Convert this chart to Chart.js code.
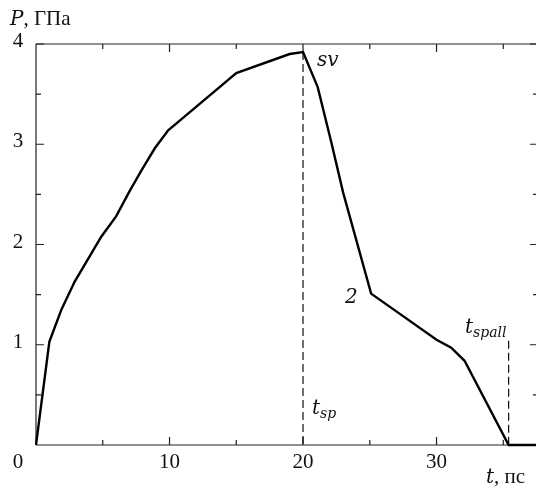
<!DOCTYPE html>
<html>
<head>
<meta charset="utf-8">
<script src="https://cdn.jsdelivr.net/npm/chart.js@4.4.0/dist/chart.umd.min.js"></script>
<style>
  body { margin: 0; background: #fff; }
  #wrap { width: 536px; height: 488px; position: relative; }
</style>
</head>
<body>
<div id="wrap"><canvas id="pressureChart"></canvas></div>
<script>
// time, ps  /  pressure, GPa (curve 2)
const tValues = [0, 1.0, 1.9, 2.9, 4.9, 6.0, 7.0, 7.9, 8.9, 9.9, 10.9, 15.0, 19.0, 20.0, 21.1, 22.1, 23.0, 25.1, 30.0, 31.1, 32.1, 35.4, 37.45];
const pValues = [0, 1.03, 1.35, 1.63, 2.08, 2.28, 2.53, 2.74, 2.96, 3.14, 3.25, 3.71, 3.90, 3.92, 3.57, 3.03, 2.52, 1.51, 1.05, 0.97, 0.84, 0, 0];

// dashed markers
const tSp = 20.0;
const pSp = 3.92;
const tSpall = 35.4;
const pSpall = 1.04;

// ticks
const xMajorTicks = [10, 20, 30];
const xMinorTicks = [5, 15, 25, 35];
const yMajorTicks = [1, 2, 3, 4];
const yMinorTicks = [0.5, 1.5, 2.5, 3.5];
const xMax = 37.45;
const yMax = 4;

const curve = tValues.map((t, i) => ({ x: t, y: pValues[i] }));

const upright = '21px "Liberation Serif", "DejaVu Serif", serif';
const italic = 'italic 20px "DejaVu Serif", "Liberation Serif", serif';
const italicSub = 'italic 14px "DejaVu Serif", "Liberation Serif", serif';

const framePlugin = {
    id: 'frame',
    beforeDatasetsDraw(chart) {
        const { ctx, chartArea: a, scales: { x, y } } = chart;
        ctx.save();
        ctx.strokeStyle = '#222';
        ctx.lineWidth = 1.2;
        ctx.beginPath();
        // left, top, bottom lines (right one falls outside the picture)
        ctx.moveTo(a.left, a.bottom); ctx.lineTo(a.left, a.top);
        ctx.moveTo(a.left, a.top); ctx.lineTo(a.right, a.top);
        ctx.moveTo(a.left, a.bottom); ctx.lineTo(a.right, a.bottom);
        ctx.stroke();

        ctx.beginPath();
        xMajorTicks.forEach(v => {
            const px = x.getPixelForValue(v);
            ctx.moveTo(px, a.bottom); ctx.lineTo(px, a.bottom - 8);
            ctx.moveTo(px, a.top); ctx.lineTo(px, a.top + 8);
        });
        xMinorTicks.forEach(v => {
            const px = x.getPixelForValue(v);
            ctx.moveTo(px, a.bottom); ctx.lineTo(px, a.bottom - 5);
            ctx.moveTo(px, a.top); ctx.lineTo(px, a.top + 5);
        });
        yMajorTicks.forEach(v => {
            const py = y.getPixelForValue(v);
            ctx.moveTo(a.left, py); ctx.lineTo(a.left + 8, py);
            ctx.moveTo(a.right, py); ctx.lineTo(a.right - 6, py);
        });
        yMinorTicks.forEach(v => {
            const py = y.getPixelForValue(v);
            ctx.moveTo(a.left, py); ctx.lineTo(a.left + 5, py);
            ctx.moveTo(a.right, py); ctx.lineTo(a.right - 3, py);
        });
        ctx.stroke();
        ctx.restore();
    },
    afterDatasetsDraw(chart) {
        const { ctx, scales: { x, y } } = chart;
        ctx.save();
        ctx.fillStyle = '#111';
        ctx.textBaseline = 'alphabetic';

        // tick labels
        ctx.font = upright;
        ctx.textAlign = 'center';
        xMajorTicks.forEach(v => ctx.fillText(String(v), x.getPixelForValue(v), 468));
        yMajorTicks.forEach(v => ctx.fillText(String(v), 18, y.getPixelForValue(v) + 3));
        ctx.fillText('0', 18, 468);

        // axis titles
        ctx.textAlign = 'left';
        ctx.font = italic;
        ctx.fillText('P', 10, 25);
        let w = ctx.measureText('P').width;
        ctx.font = upright;
        ctx.fillText(', ГПа', 10 + w, 25);

        ctx.font = italic;
        ctx.fillText('t', 486, 483);
        w = ctx.measureText('t').width;
        ctx.font = upright;
        ctx.fillText(', пс', 486 + w, 483);

        // annotations
        ctx.font = italic;
        ctx.fillText('sv', x.getPixelForValue(tSp) + 14, y.getPixelForValue(pSp) + 14);
        ctx.fillText('2', 345, 303);

        const sub = (base, s, px, py) => {
            ctx.font = italic;
            ctx.fillText(base, px, py);
            const bw = ctx.measureText(base).width;
            ctx.font = italicSub;
            ctx.fillText(s, px + bw, py + 4);
        };
        sub('t', 'sp', x.getPixelForValue(tSp) + 9, 414);
        sub('t', 'spall', 465, 333);
        ctx.restore();
    }
};

const ctx = document.getElementById('pressureChart').getContext('2d');

const chart = new Chart(ctx, {
    type: 'line',
    data: {
        datasets: [{
            data: curve,
            borderColor: '#000',
            borderWidth: 2.4,
            pointRadius: 0,
            tension: 0,
            clip: false
        }, {
            data: [{ x: tSp, y: pSp }, { x: tSp, y: 0 }],
            borderColor: '#111',
            borderWidth: 1.2,
            borderDash: [8, 4],
            pointRadius: 0
        }, {
            data: [{ x: tSpall, y: pSpall }, { x: tSpall, y: 0 }],
            borderColor: '#111',
            borderWidth: 1.2,
            borderDash: [8, 4],
            pointRadius: 0
        }]
    },
    options: {
        responsive: true,
        maintainAspectRatio: false,
        animation: false,
        layout: { padding: { left: 36, top: 44, right: 0, bottom: 43 } },
        scales: {
            x: { type: 'linear', min: 0, max: xMax, display: false },
            y: { min: 0, max: yMax, display: false }
        },
        plugins: {
            legend: { display: false },
            tooltip: { enabled: false }
        }
    },
    plugins: [framePlugin]
});
</script>
</body>
</html>
